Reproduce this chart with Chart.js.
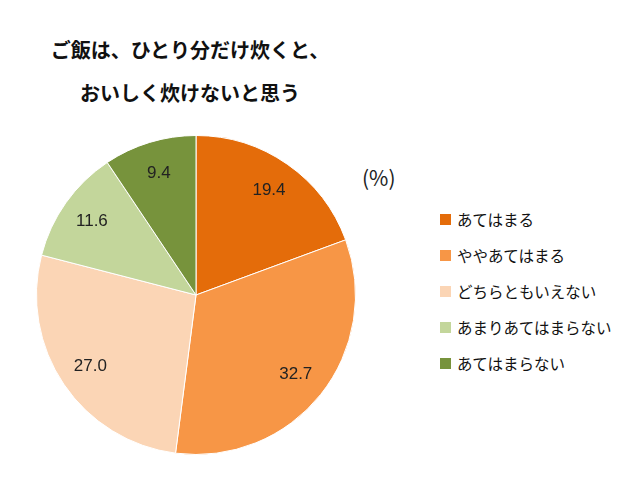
<!DOCTYPE html>
<html><head><meta charset="utf-8">
<script src="https://cdn.jsdelivr.net/npm/chart.js@4"></script>
<style>
body{margin:0;width:640px;height:484px;background:#fff;font-family:"Noto Sans CJK JP",sans-serif;position:relative;overflow:hidden}
#t{position:absolute;left:0;width:380px;top:28px;text-align:center;font-weight:bold;font-size:20px;line-height:43px;color:#111}
#pct{position:absolute;left:362px;top:162px;font-size:21px;color:#222}
#lg{position:absolute;left:440px;top:201px;font-size:15.5px;color:#111}
#lg div{height:36px;display:flex;align-items:center}
#lg span{display:inline-block;width:11px;height:11px;margin-right:6px}
#w{position:absolute;left:26px;top:125px;width:340px;height:340px}
</style></head><body>
<div id="t">ご飯は、ひとり分だけ炊くと、<br>おいしく炊けないと思う</div>
<div id="pct">(%)</div>
<div id="lg"></div>
<div id="w"><canvas id="c"></canvas></div>
<script>
const categories=["あてはまる","ややあてはまる","どちらともいえない","あまりあてはまらない","あてはまらない"];
const values=[19.4,32.7,27.0,11.6,9.4];
const colors=["#E46C0A","#F79646","#FBD5B5","#C3D69B","#77933C"];
const lg=document.getElementById('lg');
categories.forEach((c,i)=>{const d=document.createElement('div');d.innerHTML='<span style="background:'+colors[i]+'"></span>'+c;lg.appendChild(d);});
const lbl={id:'lbl',afterDatasetsDraw(ch){const ctx=ch.ctx;const m=ch.getDatasetMeta(0);ctx.save();ctx.font='17px "Liberation Sans",sans-serif';ctx.fillStyle='#222';ctx.textAlign='center';ctx.textBaseline='middle';
m.data.forEach((a,i)=>{const ang=(a.startAngle+a.endAngle)/2;const r=a.outerRadius*0.8;ctx.fillText(values[i].toFixed(1),a.x+Math.cos(ang)*r,a.y+Math.sin(ang)*r);});ctx.restore();}};
new Chart(document.getElementById('c'),{type:'pie',data:{labels:categories,datasets:[{data:values,backgroundColor:colors,borderColor:'#fff',borderWidth:1}]},
options:{responsive:true,maintainAspectRatio:false,animation:false,layout:{padding:10},plugins:{legend:{display:false},tooltip:{enabled:false}}},plugins:[lbl]});
</script></body></html>
